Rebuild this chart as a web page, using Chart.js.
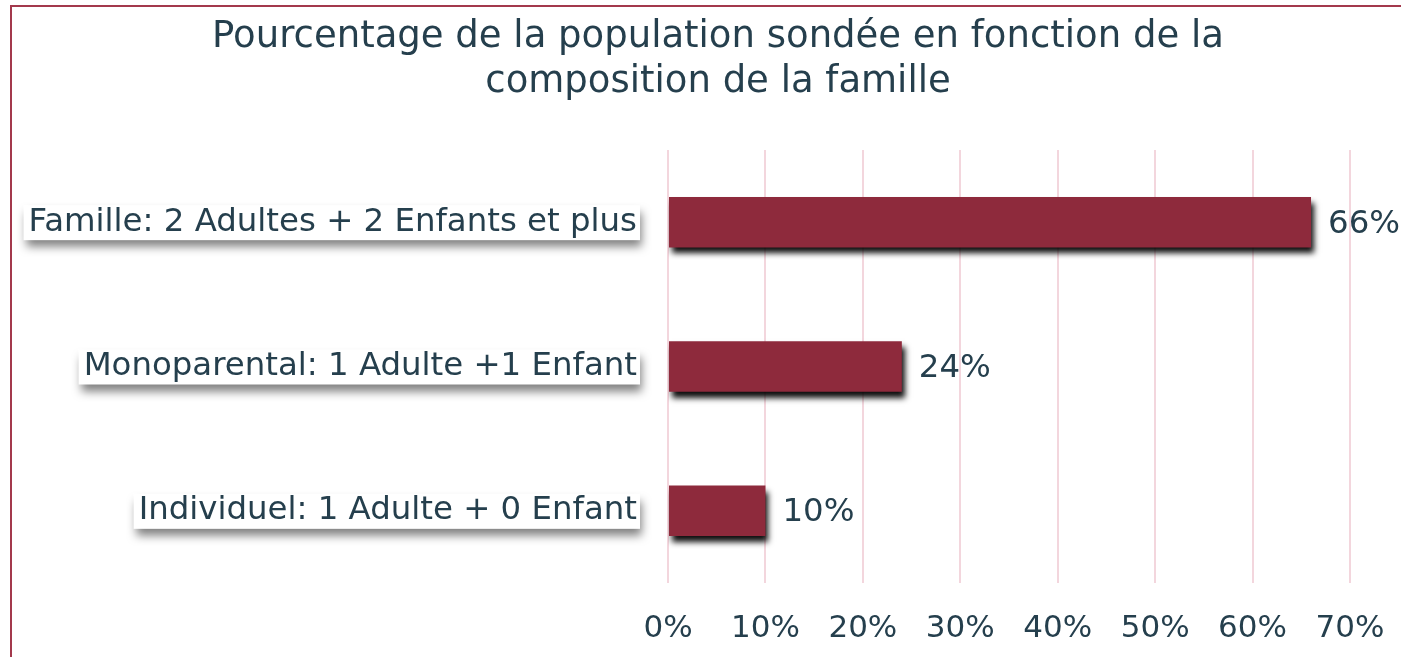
<!DOCTYPE html>
<html lang="fr">
<head>
    <meta charset="UTF-8">
    <title>Composition de la famille</title>
    <script src="https://cdn.jsdelivr.net/npm/chart.js"></script>
    <style>
        html, body {
            margin: 0;
            padding: 0;
            background: #FFFFFF;
            overflow: hidden;
        }

        .frame {
            position: absolute;
            left: 10px;
            top: 5px;
            width: 1420px;
            height: 700px;
            border: 2px solid #A3394C;
        }

        #chart {
            position: absolute;
            left: 0;
            top: 0;
        }
    </style>
</head>
<body>
    <div class="frame"></div>
    <canvas id="chart" width="1401" height="657"></canvas>

    <script>
        // Data
        const titleLines = ['Pourcentage de la population sondée en fonction de la', 'composition de la famille'];
        const categories = ['Famille: 2 Adultes + 2 Enfants et plus', 'Monoparental: 1 Adulte +1 Enfant', 'Individuel: 1 Adulte + 0 Enfant'];
        const shares = [66, 24, 10];
        const xTicks = [0, 10, 20, 30, 40, 50, 60, 70];

        const textColor = '#253F4D';
        const barColor = '#8E2A3C';
        const gridColor = '#F3D6DD';
        const fontFamily = "'DejaVu Sans', Verdana, sans-serif";
        const labelSize = 32.4;

        // two-line title, centred on the frame rather than the plot
        const titleText = {
            id: 'titleText',
            afterDraw(chart) {
                const ctx = chart.ctx;
                ctx.save();
                ctx.font = '37px ' + fontFamily;
                ctx.fillStyle = textColor;
                ctx.textAlign = 'center';
                ctx.textBaseline = 'alphabetic';
                titleLines.forEach((line, i) => {
                    ctx.fillText(line, 718, 47 + i * 45);
                });
                ctx.restore();
            }
        };

        // white boxes with a soft shadow behind the category labels
        const labelBoxes = {
            id: 'labelBoxes',
            beforeDraw(chart) {
                const ctx = chart.ctx;
                const yScale = chart.scales.y;
                ctx.save();
                ctx.font = labelSize + 'px ' + fontFamily;
                categories.forEach((label, i) => {
                    const y = yScale.getPixelForTick(i);
                    const w = ctx.measureText(label).width;
                    const right = yScale.right - 31;
                    ctx.shadowColor = 'rgba(0,0,0,0.5)';
                    ctx.shadowBlur = 9;
                    ctx.shadowOffsetX = 2;
                    ctx.shadowOffsetY = 7;
                    ctx.fillStyle = '#FFFFFF';
                    ctx.fillRect(right - w - 5, y - 17, w + 8, 35);
                });
                ctx.restore();
            }
        };

        // dark drop shadow under the bars
        const barShadow = {
            id: 'barShadow',
            beforeDatasetDraw(chart) {
                const ctx = chart.ctx;
                ctx.save();
                ctx.shadowColor = 'rgba(0,0,0,0.95)';
                ctx.shadowBlur = 6;
                ctx.shadowOffsetX = 3;
                ctx.shadowOffsetY = 6;
            },
            afterDatasetDraw(chart) {
                chart.ctx.restore();
            }
        };

        // value labels at the end of each bar
        const valueLabels = {
            id: 'valueLabels',
            afterDatasetsDraw(chart) {
                const ctx = chart.ctx;
                const meta = chart.getDatasetMeta(0);
                ctx.save();
                ctx.font = labelSize + 'px ' + fontFamily;
                ctx.fillStyle = textColor;
                ctx.textAlign = 'left';
                ctx.textBaseline = 'middle';
                meta.data.forEach((bar, i) => {
                    ctx.fillText(shares[i] + '%', bar.x + 17, bar.y + 2);
                });
                ctx.restore();
            }
        };

        new Chart(document.getElementById('chart'), {
            type: 'bar',
            data: {
                labels: categories,
                datasets: [{
                    data: shares,
                    backgroundColor: barColor,
                    borderWidth: 0,
                    barPercentage: 0.7,
                    categoryPercentage: 0.5
                }]
            },
            options: {
                indexAxis: 'y',
                responsive: false,
                animation: false,
                layout: {
                    padding: { left: 0, right: 51, top: 150, bottom: 0 }
                },
                plugins: {
                    legend: { display: false },
                    tooltip: { enabled: false },
                    title: { display: false }
                },
                scales: {
                    x: {
                        min: 0,
                        max: 70,
                        afterBuildTicks(scale) {
                            scale.ticks = xTicks.map(v => ({ value: v }));
                        },
                        afterFit(scale) {
                            scale.height = 74;
                            scale.paddingLeft = 0;
                            scale.paddingRight = 0;
                        },
                        border: { display: false },
                        grid: { color: gridColor, lineWidth: 2, drawTicks: false },
                        ticks: {
                            color: textColor,
                            padding: 27,
                            font: { family: fontFamily, size: 31 },
                            callback: v => v + '%'
                        }
                    },
                    y: {
                        afterFit(scale) {
                            scale.width = 668;
                        },
                        border: { display: false },
                        grid: { display: false, drawTicks: false },
                        ticks: {
                            color: textColor,
                            padding: 31,
                            font: { family: fontFamily, size: labelSize }
                        }
                    }
                }
            },
            plugins: [labelBoxes, barShadow, valueLabels, titleText]
        });
    </script>
</body>
</html>
